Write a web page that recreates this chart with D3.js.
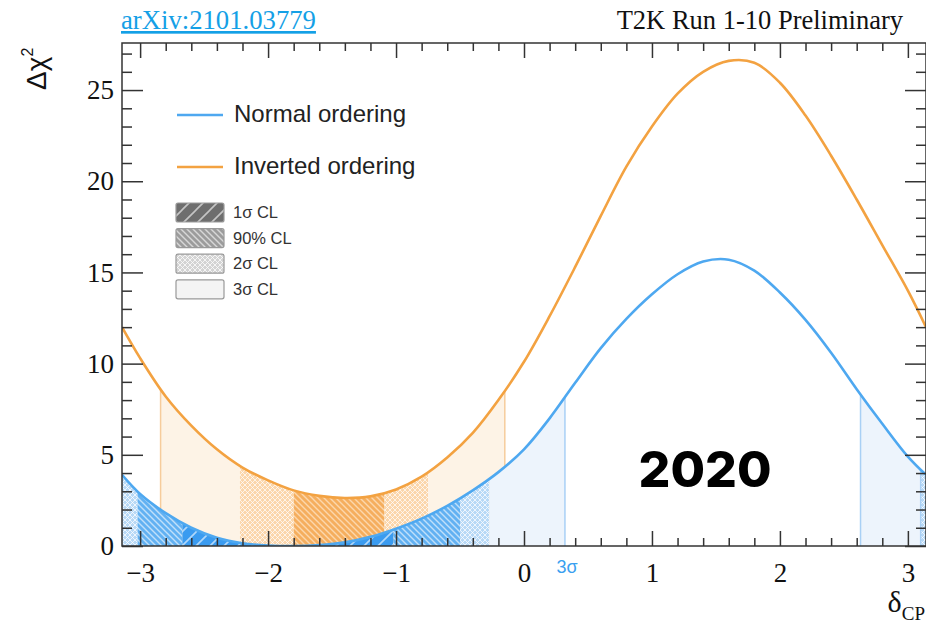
<!DOCTYPE html>
<html>
<head>
<meta charset="utf-8">
<script src="https://cdnjs.cloudflare.com/ajax/libs/d3/7.8.5/d3.min.js"></script>
<style>
  body { margin: 0; background: #fff; }
  svg { display: block; }
</style>
</head>
<body>
<svg id="chart" width="926" height="633"></svg>
<script>
// delta_CP scan points and the two Delta chi^2 curves
var deltaCP = [-3.1416, -3.0, -2.8, -2.6, -2.4, -2.2, -2.0, -1.8, -1.6, -1.4, -1.2,
  -1.0, -0.8, -0.6, -0.4, -0.2, 0.0, 0.2, 0.4, 0.6, 0.8, 1.0, 1.2, 1.4, 1.6, 1.8,
  2.0, 2.2, 2.4, 2.6, 2.8, 3.0, 3.1416];
var chi2Normal = [3.9, 2.85, 1.8, 1.0, 0.45, 0.15, 0.03, 0.0, 0.05, 0.2, 0.5,
  0.95, 1.5, 2.2, 3.05, 4.05, 5.3, 7.0, 8.95, 10.85, 12.45, 13.8, 14.9, 15.6, 15.7, 15.1,
  13.9, 12.4, 10.6, 8.6, 6.7, 4.9, 3.9];
var chi2Inverted = [12.0, 10.3, 8.2, 6.6, 5.3, 4.3, 3.6, 3.05, 2.75, 2.63, 2.72,
  3.1, 3.8, 4.85, 6.2, 8.0, 10.1, 12.6, 15.3, 18.1, 20.8, 23.0, 24.8, 26.0, 26.6, 26.5,
  25.4, 23.6, 21.4, 19.0, 16.5, 14.0, 12.0];

// confidence level intervals
var normalBandFrom = [-3.1416, -3.02, -2.67, -1.02, -0.50, -0.27, 2.63, 3.10];
var normalBandTo = [-3.02, -2.67, -1.02, -0.50, -0.27, 0.32, 3.10, 3.1416];
var normalBandCL = ["2s", "90", "1s", "90", "2s", "3s", "3s", "2s"];
var normalEdges = [0.32, 2.63, 3.10];

var invertedBandFrom = [-2.84, -2.22, -1.80, -1.09, -0.75];
var invertedBandTo = [-2.22, -1.80, -1.09, -0.75, -0.15];
var invertedBandCL = ["3s", "2s", "90", "2s", "3s"];
var invertedEdges = [-2.84, -0.15];

var xTicks = [-3, -2, -1, 0, 1, 2, 3];
var yTicks = [0, 5, 10, 15, 20, 25];
var legendKeys = ["1s", "90", "2s", "3s"];
var legendLabels = ["1σ CL", "90% CL", "2σ CL", "3σ CL"];
var seriesLabels = ["Normal ordering", "Inverted ordering"];

var svg = d3.select("#chart"),
  frameL = 122, frameR = 926, frameT = 43, frameB = 546;

var x = d3.scaleLinear().domain([-Math.PI, Math.PI]).range([frameL, frameR]);
var y = d3.scaleLinear().domain([0, 27.58]).range([frameB, frameT]);

var blue = "#4ea8f0", orange = "#f3a241";
var serif = "'Liberation Serif', 'Times New Roman', serif";
var sans = "'Liberation Sans', Arial, Helvetica, sans-serif";

var defs = svg.append("defs");

function hatch(id, bg, stroke, kind, s, w) {
  var p = defs.append("pattern")
    .attr("id", id)
    .attr("patternUnits", "userSpaceOnUse")
    .attr("width", s)
    .attr("height", s);
  p.append("rect").attr("width", s).attr("height", s).attr("fill", bg);
  var fwd = "M0," + s + "L" + s + ",0M-1,1L1,-1M" + (s - 1) + "," + (s + 1) + "L" + (s + 1) + "," + (s - 1);
  var back = "M0,0L" + s + "," + s + "M-1," + (s - 1) + "L1," + (s + 1) + "M" + (s - 1) + ",-1L" + (s + 1) + ",1";
  var d = kind == "/" ? fwd : kind == "\\" ? back : kind == "x" ? fwd + back : null;
  if (d) {
    p.append("path").attr("d", d).attr("stroke", stroke).attr("stroke-width", w).attr("fill", "none");
  }
}

hatch("n1s", "#3a9bf0", "rgba(255,255,255,0.6)", "/", 14, 1.6);
hatch("n90", "#62b1f2", "rgba(255,255,255,0.6)", "\\", 6, 1.4);
hatch("n2s", "#b8d9f6", "rgba(255,255,255,0.75)", "x", 5, 1);
hatch("n3s", "#edf4fc", null, "", 5, 0);
hatch("i90", "#f5ae5e", "rgba(255,236,214,0.65)", "\\", 6, 1.4);
hatch("i2s", "#fbd6ab", "rgba(255,255,255,0.7)", "x", 5, 1);
hatch("i3s", "#fdf3e6", null, "", 5, 0);
hatch("g1s", "#6e6e6e", "rgba(255,255,255,0.6)", "/", 14, 1.6);
hatch("g90", "#9c9c9c", "rgba(255,255,255,0.6)", "\\", 6, 1.4);
hatch("g2s", "#d3d3d3", "rgba(255,255,255,0.75)", "x", 5, 1);
hatch("g3s", "#f4f4f4", null, "", 5, 0);

var normal = deltaCP.map(function(d, i) { return [d, chi2Normal[i]]; });
var inverted = deltaCP.map(function(d, i) { return [d, chi2Inverted[i]]; });

var area = d3.area()
  .x(function(d) { return x(d[0]); })
  .y0(y(0))
  .y1(function(d) { return y(d[1]); })
  .curve(d3.curveCatmullRom);
var line = d3.line()
  .x(function(d) { return x(d[0]); })
  .y(function(d) { return y(d[1]); })
  .curve(d3.curveCatmullRom);

defs.append("clipPath").attr("id", "underNormal").append("path").attr("d", area(normal));
defs.append("clipPath").attr("id", "underInverted").append("path").attr("d", area(inverted));
defs.append("clipPath").attr("id", "frame").append("rect")
  .attr("x", frameL).attr("y", frameT).attr("width", frameR - frameL).attr("height", frameB - frameT);

var plot = svg.append("g").attr("clip-path", "url(#frame)");

function bands(from, to, cl, prefix, clip, edges, edgeColor) {
  var g = plot.append("g").attr("clip-path", "url(#" + clip + ")");
  g.selectAll("rect")
    .data(from)
    .enter()
    .append("rect")
    .attr("x", function(d) { return x(d); })
    .attr("y", frameT)
    .attr("width", function(d, i) { return x(to[i]) - x(d); })
    .attr("height", frameB - frameT)
    .attr("fill", function(d, i) { return "url(#" + prefix + cl[i] + ")"; });
  g.selectAll("line")
    .data(edges)
    .enter()
    .append("line")
    .attr("x1", function(d) { return x(d); })
    .attr("x2", function(d) { return x(d); })
    .attr("y1", frameT)
    .attr("y2", frameB)
    .attr("stroke", edgeColor)
    .attr("stroke-width", 1.5);
}

bands(invertedBandFrom, invertedBandTo, invertedBandCL, "i", "underInverted", invertedEdges, "#f6cc9c");
bands(normalBandFrom, normalBandTo, normalBandCL, "n", "underNormal", normalEdges, "#a9d0f5");

plot.append("path").attr("d", line(inverted))
  .attr("fill", "none").attr("stroke", orange).attr("stroke-width", 2.6);
plot.append("path").attr("d", line(normal))
  .attr("fill", "none").attr("stroke", blue).attr("stroke-width", 2.6);

// axes
var minorX = d3.range(-15, 16).map(function(i) { return i / 5; })
  .filter(function(v) { return Math.abs(v - Math.round(v)) > 0.01; });
var minorY = d3.range(0, 28).filter(function(v) { return v % 5 != 0; });

function axisStyle(g) {
  g.select(".domain").remove();
  g.selectAll("line").attr("stroke", "#333").attr("stroke-width", 1.5);
  g.selectAll("text").attr("font-family", serif).attr("font-size", 27).attr("fill", "#111");
}

var fmt = function(d) { return d < 0 ? "\u2212" + Math.abs(d) : "" + d; };

svg.append("g").attr("transform", "translate(0," + frameB + ")")
  .call(d3.axisBottom(x).tickValues(xTicks).tickSize(-15).tickSizeOuter(0).tickPadding(17).tickFormat(fmt))
  .call(axisStyle);
svg.append("g").attr("transform", "translate(0," + frameB + ")")
  .call(d3.axisBottom(x).tickValues(minorX).tickSize(-8).tickSizeOuter(0).tickFormat(""))
  .call(axisStyle);
svg.append("g").attr("transform", "translate(0," + frameT + ")")
  .call(d3.axisTop(x).tickValues(xTicks).tickSize(-15).tickSizeOuter(0).tickFormat(""))
  .call(axisStyle);
svg.append("g").attr("transform", "translate(0," + frameT + ")")
  .call(d3.axisTop(x).tickValues(minorX).tickSize(-8).tickSizeOuter(0).tickFormat(""))
  .call(axisStyle);
svg.append("g").attr("transform", "translate(" + frameL + ",0)")
  .call(d3.axisLeft(y).tickValues(yTicks).tickSize(-21).tickSizeOuter(0).tickPadding(8))
  .call(axisStyle);
svg.append("g").attr("transform", "translate(" + frameL + ",0)")
  .call(d3.axisLeft(y).tickValues(minorY).tickSize(-10).tickSizeOuter(0).tickFormat(""))
  .call(axisStyle);
svg.append("g").attr("transform", "translate(" + frameR + ",0)")
  .call(d3.axisRight(y).tickValues(yTicks).tickSize(-21).tickSizeOuter(0).tickFormat(""))
  .call(axisStyle);
svg.append("g").attr("transform", "translate(" + frameR + ",0)")
  .call(d3.axisRight(y).tickValues(minorY).tickSize(-10).tickSizeOuter(0).tickFormat(""))
  .call(axisStyle);

svg.append("rect")
  .attr("x", frameL).attr("y", frameT)
  .attr("width", frameR - frameL).attr("height", frameB - frameT)
  .attr("fill", "none").attr("stroke", "#333").attr("stroke-width", 1.5);

// axis titles
var yt = svg.append("text")
  .attr("transform", "translate(46,90) rotate(-90)")
  .attr("font-family", sans).attr("fill", "#111");
yt.append("tspan").attr("font-size", 28).text("Δχ");
yt.append("tspan").attr("font-size", 16).attr("dy", -13).text("2");

var xt = svg.append("text")
  .attr("x", 925).attr("y", 612)
  .attr("text-anchor", "end")
  .attr("font-family", serif).attr("fill", "#111");
xt.append("tspan").attr("font-size", 30).text("δ");
xt.append("tspan").attr("font-size", 19).attr("dy", 8).text("CP");

// header texts
svg.append("text")
  .attr("x", 121).attr("y", 29)
  .attr("font-family", serif).attr("font-size", 26.7)
  .attr("fill", "#14a0e6").attr("text-decoration", "underline")
  .text("arXiv:2101.03779");
svg.append("text")
  .attr("x", 903).attr("y", 29)
  .attr("text-anchor", "end")
  .attr("font-family", serif).attr("font-size", 26.5).attr("fill", "#111")
  .text("T2K Run 1-10 Preliminary");

svg.append("text")
  .attr("x", x(0.32) + 2).attr("y", 573)
  .attr("text-anchor", "middle")
  .attr("font-family", sans).attr("font-size", 18).attr("fill", "#3a9ff0")
  .text("3σ");

svg.append("text")
  .attr("x", 705).attr("y", 487)
  .attr("text-anchor", "middle")
  .attr("font-family", "Inter, Lato, sans-serif").attr("font-weight", 800)
  .attr("font-size", 50).attr("fill", "#000")
  .text("2020");

// legend
var lines = svg.append("g");
lines.selectAll("line")
  .data(seriesLabels)
  .enter()
  .append("line")
  .attr("x1", 177).attr("x2", 223)
  .attr("y1", function(d, i) { return 115 + i * 52; })
  .attr("y2", function(d, i) { return 115 + i * 52; })
  .attr("stroke", function(d, i) { return i == 0 ? blue : orange; })
  .attr("stroke-width", 2.6);
lines.selectAll("text")
  .data(seriesLabels)
  .enter()
  .append("text")
  .attr("x", 234)
  .attr("y", function(d, i) { return 122 + i * 52; })
  .attr("font-family", sans).attr("font-size", 24).attr("fill", "#222")
  .text(function(d) { return d; });

var boxes = svg.append("g");
boxes.selectAll("rect")
  .data(legendKeys)
  .enter()
  .append("rect")
  .attr("x", 176).attr("width", 48)
  .attr("y", function(d, i) { return 203 + i * 25.6; })
  .attr("height", 19).attr("rx", 2)
  .attr("fill", function(d) { return "url(#g" + d + ")"; })
  .attr("stroke", "#999").attr("stroke-width", 1.2);
boxes.selectAll("text")
  .data(legendLabels)
  .enter()
  .append("text")
  .attr("x", 233)
  .attr("y", function(d, i) { return 218 + i * 25.6; })
  .attr("font-family", sans).attr("font-size", 16.5).attr("fill", "#333")
  .text(function(d) { return d; });
</script>
</body>
</html>
